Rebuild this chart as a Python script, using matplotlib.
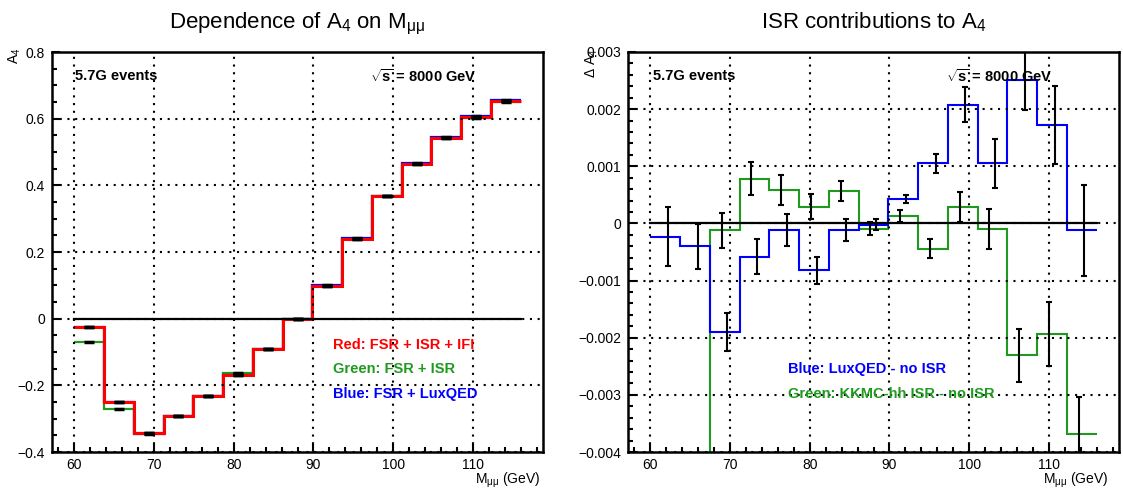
import numpy as np
import matplotlib
matplotlib.use("Agg")
import matplotlib.pyplot as plt
from matplotlib.ticker import MultipleLocator, FuncFormatter

plt.rcParams['font.family'] = ['Liberation Sans', 'DejaVu Sans']
plt.rcParams['mathtext.fontset'] = 'custom'
plt.rcParams['mathtext.rm'] = 'Liberation Sans'
plt.rcParams['mathtext.it'] = 'Liberation Sans:italic'
plt.rcParams['mathtext.bf'] = 'Liberation Sans:bold'

# 15 bins in M_mumu from 60 to 116 GeV
edges = np.linspace(60.0, 116.0, 16)
centers = 0.5 * (edges[:-1] + edges[1:])

# A4 vs M_mumu
a4_red = [-0.025, -0.251, -0.344, -0.292, -0.232, -0.168, -0.092, 0.000,
          0.099, 0.239, 0.368, 0.465, 0.543, 0.605, 0.653]
a4_green = [-0.071, -0.271, -0.344, -0.292, -0.232, -0.162, -0.092, 0.000,
            0.099, 0.238, 0.367, 0.464, 0.541, 0.603, 0.651]
a4_blue = [-0.025, -0.251, -0.346, -0.292, -0.232, -0.168, -0.092, 0.000,
           0.100, 0.242, 0.368, 0.466, 0.546, 0.608, 0.656]

# ISR contributions, delta A4
d_blue = [-0.00023, -0.00040, -0.00190, -0.00058, -0.00012, -0.00082, -0.00012, -0.00002,
          0.00043, 0.00105, 0.00208, 0.00105, 0.00251, 0.00172, -0.00012]
e_blue = [0.00051, 0.00039, 0.00034, 0.00031, 0.00028, 0.00024, 0.00019, 0.00010,
          0.00007, 0.00017, 0.00031, 0.00043, 0.00053, 0.00068, 0.00080]
d_green = [-0.0052, -0.0047, -0.00012, 0.00078, 0.00059, 0.00029, 0.00057, -0.00009,
           0.00013, -0.00044, 0.00029, -0.00009, -0.00231, -0.00193, -0.00369]
e_green = [0.0004, 0.0004, 0.00031, 0.00029, 0.00026, 0.00022, 0.00017, 0.00012,
           0.00010, 0.00017, 0.00026, 0.00035, 0.00046, 0.00056, 0.00065]

RED = '#ff0000'
GREEN = '#1f9a1f'
BLUE = '#0000ff'
BSIZE = 10.5

W, H = 1123, 490
fig = plt.figure(figsize=(W / 100, H / 100), dpi=100)
ax1 = fig.add_axes([52 / W, 38 / H, 491 / W, 400 / H])
ax2 = fig.add_axes([628 / W, 38 / H, 491 / W, 400 / H])


def fmt(v, pos):
    return ('%g' % round(v, 6)).replace('-', '\u2212')


def style_axes(ax, ylim, ymajor, yminor):
    ax.set_xlim(57.2, 118.8)
    ax.set_ylim(*ylim)
    ax.xaxis.set_major_locator(MultipleLocator(10))
    ax.xaxis.set_minor_locator(MultipleLocator(2))
    ax.yaxis.set_major_locator(MultipleLocator(ymajor))
    ax.yaxis.set_minor_locator(MultipleLocator(yminor))
    ax.yaxis.set_major_formatter(FuncFormatter(fmt))
    for sp in ax.spines.values():
        sp.set_linewidth(1.8)
    ax.tick_params(which='both', direction='in', top=False, right=False,
                   width=1.5, labelsize=10)
    ax.tick_params(which='major', length=6)
    ax.tick_params(which='minor', length=3.5)
    ax.tick_params(axis='x', pad=4)
    ax.tick_params(axis='y', pad=5)
    ax.grid(True, which='major', color='black', linestyle=(0, (1, 2.7)), linewidth=1.5)
    ax.plot([edges[0], edges[-1]], [0, 0], color='black', lw=1.6, zorder=1.8)


style_axes(ax1, (-0.4, 0.8), 0.2, 0.05)
style_axes(ax2, (-0.004, 0.003), 0.001, 0.0002)

# left: A4 for the three setups
ax1.stairs(a4_green, edges, baseline=None, color=GREEN, lw=1.6)
ax1.stairs(a4_blue, edges, baseline=None, color=BLUE, lw=1.6)
ax1.stairs(a4_red, edges, baseline=None, color=RED, lw=2.2)
for vals in (a4_green, a4_blue, a4_red):
    ax1.plot(centers, vals, ls='none', marker='_', ms=7, mew=2.5, color='black', zorder=3)

# right: differences with error bars
ax2.stairs(d_green, edges, baseline=None, color=GREEN, lw=1.5)
ax2.stairs(d_blue, edges, baseline=None, color=BLUE, lw=1.5)
ax2.errorbar(centers - 0.4, d_green, yerr=e_green, fmt='none', ecolor='black',
             elinewidth=1.5, capsize=2.2, capthick=1.5, zorder=3)
ax2.errorbar(centers + 0.33, d_blue, yerr=e_blue, fmt='none', ecolor='black',
             elinewidth=1.5, capsize=2.2, capthick=1.5, zorder=3)

# titles and axis labels
fig.text(297.5 / W, 1 - 28.5 / H, r'Dependence of A$_4$ on M$_{\mathrm{μμ}}$',
         ha='center', va='baseline', fontsize=16)
fig.text(873.5 / W, 1 - 28.5 / H, r'ISR contributions to A$_4$',
         ha='center', va='baseline', fontsize=16)
fig.text(15 / W, 1 - 48 / H, r'A$_4$', rotation=90, ha='center', va='top', fontsize=10)
fig.text(592 / W, 1 - 48 / H, r'Δ A$_4$', rotation=90, ha='center', va='top', fontsize=10)
fig.text(540 / W, 1 - 480 / H, r'M$_{\mathrm{μμ}}$ (GeV)', ha='right', va='center', fontsize=10)
fig.text(1108 / W, 1 - 480 / H, r'M$_{\mathrm{μμ}}$ (GeV)', ha='right', va='center', fontsize=10)

for ax, xs in ((ax1, 0.047), (ax2, 0.051)):
    ax.text(xs, 0.94, '5.7G events', transform=ax.transAxes, ha='left', va='center',
            fontsize=BSIZE, fontweight='bold')
    ax.text(0.648, 0.94, r'$\mathbf{\sqrt{s}}$ = 8000 GeV', transform=ax.transAxes,
            ha='left', va='center', fontsize=BSIZE, fontweight='bold')

ax1.text(0.572, 0.2675, 'Red: FSR + ISR + IFI', transform=ax1.transAxes, color=RED,
         ha='left', va='center', fontsize=BSIZE, fontweight='bold')
ax1.text(0.572, 0.2075, 'Green: FSR + ISR', transform=ax1.transAxes, color=GREEN,
         ha='left', va='center', fontsize=BSIZE, fontweight='bold')
ax1.text(0.572, 0.145, 'Blue: FSR + LuxQED', transform=ax1.transAxes, color=BLUE,
         ha='left', va='center', fontsize=BSIZE, fontweight='bold')
ax2.text(0.325, 0.207, 'Blue: LuxQED - no ISR', transform=ax2.transAxes, color=BLUE,
         ha='left', va='center', fontsize=BSIZE, fontweight='bold', zorder=5)
ax2.text(0.325, 0.144, 'Green: KKMC-hh ISR - no ISR', transform=ax2.transAxes, color=GREEN,
         ha='left', va='center', fontsize=BSIZE, fontweight='bold', zorder=5)

fig.savefig('out.png', dpi=100)
